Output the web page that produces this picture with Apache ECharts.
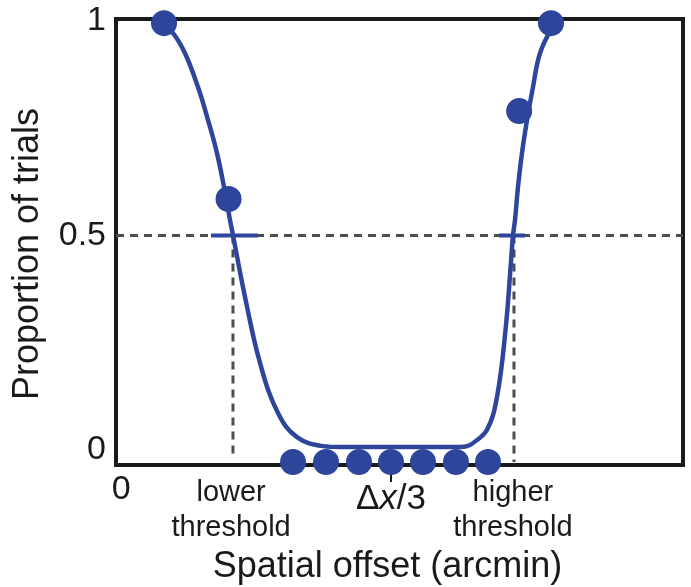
<!DOCTYPE html>
<html>
<head>
<meta charset="utf-8">
<script src="https://cdn.jsdelivr.net/npm/echarts@6/dist/echarts.min.js"></script>
<style>
html,body{margin:0;padding:0;background:#fff;}
#c{width:691px;height:587px;}
</style>
</head>
<body>
<div id="c"></div>
<script>
// Data points (observed proportions)
const pointsX = [8.47, 19.85, 31.22, 37.04, 42.86, 48.5, 54.14, 59.96, 65.61, 71.1, 76.72];
const pointsY = [0.995, 0.585, -0.028, -0.028, -0.028, -0.028, -0.028, -0.028, -0.028, 0.790, 0.995];
// Fitted curve
const curveX = [8.64, 10.05, 12.17, 14.46, 16.23, 17.81, 19.05, 20.11, 20.63, 22.75, 25.40, 28.57, 31.92, 36.51, 39.5, 60.67, 61.9, 62.96, 65.43, 67.2, 68.7, 69.66, 70.02, 70.37, 70.9, 71.6, 72.49, 73.54, 74.78, 76.9];
const curveY = [0.984, 0.972, 0.925, 0.846, 0.769, 0.692, 0.613, 0.536, 0.501, 0.357, 0.203, 0.086, 0.030, 0.009, 0.007, 0.007, 0.009, 0.016, 0.047, 0.124, 0.280, 0.438, 0.501, 0.536, 0.613, 0.692, 0.769, 0.846, 0.925, 0.984];
// Thresholds
const lowerThreshold = 20.63;
const higherThreshold = 70.19;
const criterion = 0.5;
const lowerMarker = [16.75, 25.04];
const higherMarker = [67.55, 72.13];
const lowerDashEnd = -0.014;
const higherDashEnd = -0.028;
// Axis ticks / labels
const xMin = 0, xMax = 100;
const yMin = -0.035, yMax = 1.0047;
const yTickValues = [0, 0.5, 1];
const yTickLabels = ['0', '0.5', '1'];
const xTickValues = [0.9, 20.3, 48.5, 70.0];
const xTickLabels = ['{z|0}', '{t|lower}\n{t|threshold}', '{d|Δ}{di|x}{d|/3}', '{t|higher}\n{t|threshold}'];
const deltaTick = [48.5];

const blue = '#2d469b';
const dash = '#4d4d4d';
const ink = '#1a1a1a';
const font = "'Liberation Sans', Arial, Helvetica, sans-serif";

const chart = echarts.init(document.getElementById('c'));
const pairs = (xs, ys) => xs.map((x, i) => [x, ys[i]]);

chart.setOption({
  animation: false,
  textStyle: {fontFamily: font, color: ink},
  grid: {left: 116, right: 8, top: 19, bottom: 122, show: true, borderColor: ink, borderWidth: 4,
         backgroundColor: 'transparent', containLabel: false, outerBoundsMode: 'none'},
  xAxis: {
    type: 'value', min: xMin, max: xMax,
    name: 'Spatial offset (arcmin)', nameLocation: 'middle', nameGap: 84,
    nameTextStyle: {fontSize: 36, color: ink, fontFamily: font, padding: [0, 24, 0, 0]},
    axisLine: {show: true, onZero: false, lineStyle: {color: ink, width: 4}},
    axisTick: {show: true, customValues: deltaTick, length: 17, lineStyle: {color: ink, width: 2}},
    splitLine: {show: false},
    axisLabel: {
      show: true, customValues: xTickValues, margin: 10, hideOverlap: false,
      formatter: function (v) { const i = xTickValues.indexOf(v); return i >= 0 ? xTickLabels[i] : ''; },
      rich: {
        z: {fontSize: 34, color: ink, fontFamily: font, lineHeight: 29},
        t: {fontSize: 29, color: ink, fontFamily: font, lineHeight: 35},
        d: {fontSize: 35, color: ink, fontFamily: font, lineHeight: 49},
        di: {fontSize: 35, color: ink, fontFamily: font, fontStyle: 'italic', lineHeight: 49}
      }
    }
  },
  yAxis: {
    type: 'value', min: yMin, max: yMax,
    name: 'Proportion of trials', nameLocation: 'middle', nameGap: 70,
    nameTextStyle: {fontSize: 36, color: ink, fontFamily: font, padding: [0, 24, 0, 0]},
    axisLine: {show: true, onZero: false, lineStyle: {color: ink, width: 4}},
    axisTick: {show: false},
    splitLine: {show: false},
    axisLabel: {
      show: true, customValues: yTickValues, margin: 10, fontSize: 34, color: ink, fontFamily: font,
      padding: [7, 0, 0, 0],
      formatter: function (v) { const i = yTickValues.indexOf(v); return i >= 0 ? yTickLabels[i] : ''; }
    }
  },
  series: [
    {type: 'line', data: [[xMin, criterion], [xMax, criterion]], symbol: 'none', clip: false, z: 1,
     lineStyle: {color: dash, width: 3, type: [8, 6]}},
    {type: 'line', data: [[lowerThreshold, criterion], [lowerThreshold, lowerDashEnd]], symbol: 'none', clip: false, z: 1,
     lineStyle: {color: dash, width: 3, type: [8, 6]}},
    {type: 'line', data: [[higherThreshold, criterion], [higherThreshold, higherDashEnd]], symbol: 'none', clip: false, z: 1,
     lineStyle: {color: dash, width: 3, type: [8, 6]}},
    {type: 'line', data: [[lowerMarker[0], criterion], [lowerMarker[1], criterion]], symbol: 'none', clip: false, z: 2,
     lineStyle: {color: blue, width: 4}},
    {type: 'line', data: [[higherMarker[0], criterion], [higherMarker[1], criterion]], symbol: 'none', clip: false, z: 2,
     lineStyle: {color: blue, width: 4}},
    {type: 'line', data: pairs(curveX, curveY), symbol: 'none', smooth: 0.4, clip: false, z: 3,
     lineStyle: {color: blue, width: 4.5}},
    {type: 'scatter', data: pairs(pointsX, pointsY), symbol: 'circle', symbolSize: 26, clip: false, z: 4,
     itemStyle: {color: blue, opacity: 1}}
  ]
});
</script>
</body>
</html>
